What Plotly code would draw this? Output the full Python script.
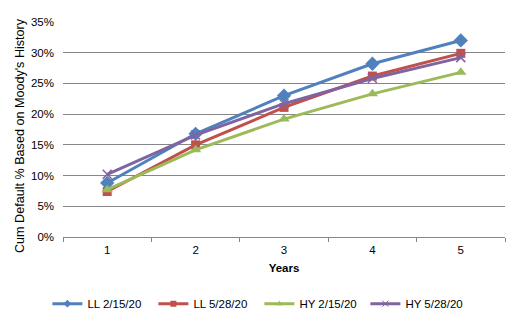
import plotly.graph_objects as go

years = ["1", "2", "3", "4", "5"]
ll_feb = [0.088, 0.168, 0.230, 0.282, 0.320]
ll_may = [0.074, 0.150, 0.211, 0.262, 0.299]
hy_feb = [0.077, 0.142, 0.192, 0.233, 0.268]
hy_may = [0.102, 0.166, 0.217, 0.258, 0.292]

series = [
    ("LL 2/15/20", ll_feb, "#4F81BD", "diamond", 11),
    ("LL 5/28/20", ll_may, "#C0504D", "square", 9),
    ("HY 2/15/20", hy_feb, "#9BBB59", "triangle-up", 10),
    ("HY 5/28/20", hy_may, "#8064A2", "x-thin", 9),
]

FS = 11.5
fig = go.Figure()
for name, vals, color, sym, size in series:
    marker = dict(symbol=sym, size=size, color=color)
    if sym == "x-thin":
        marker["line"] = dict(color=color, width=1.5)
    fig.add_trace(go.Scatter(
        x=years, y=vals, name=name, mode="lines+markers", showlegend=False,
        line=dict(color=color, width=3), marker=marker,
    ))
# legend entries with smaller symbols, like the reference
for name, vals, color, sym, size in series:
    marker = dict(symbol=sym, size=6, color=color)
    if sym == "x-thin":
        marker["line"] = dict(color=color, width=1)
    fig.add_trace(go.Scatter(
        x=[years[0]], y=[None], name=name, mode="lines+markers",
        line=dict(color=color, width=3), marker=marker,
    ))

fig.update_layout(
    width=524, height=322,
    margin=dict(l=63, r=19, t=22, b=85, autoexpand=False),
    paper_bgcolor="white", plot_bgcolor="white",
    font=dict(family="Arial, Liberation Sans", size=FS, color="#000000"),
    showlegend=True,
    legend=dict(orientation="h", xref="container", x=0.495, xanchor="center",
                y=-0.31, yanchor="middle",
                font=dict(size=FS), itemwidth=30, tracegroupgap=0,
                entrywidth=61, entrywidthmode="pixels"),
    xaxis=dict(
        type="category", range=[-0.5, 4.5], tickson="boundaries", ticks="outside", ticklen=4,
        tickcolor="#868686", showline=True, linecolor="#868686", linewidth=1,
        showgrid=False, zeroline=False, ticklabelstandoff=2,
        title=dict(text="<b>Years</b>", font=dict(size=FS), standoff=9),
    ),
    yaxis=dict(
        range=[0, 0.35], dtick=0.05, tickformat=".0%",
        showgrid=True, gridcolor="#868686", gridwidth=1,
        showline=False, zeroline=False, ticks="", ticklabelstandoff=8,
    ),
    annotations=[dict(
        text="Cum Default % Based on Moody's History", textangle=-90,
        xref="paper", yref="paper", x=(20 - 63) / 442, y=(237 - 136) / 215,
        xanchor="center", yanchor="middle", showarrow=False, font=dict(size=12.6),
    )],
)

fig.write_html("out.html")
